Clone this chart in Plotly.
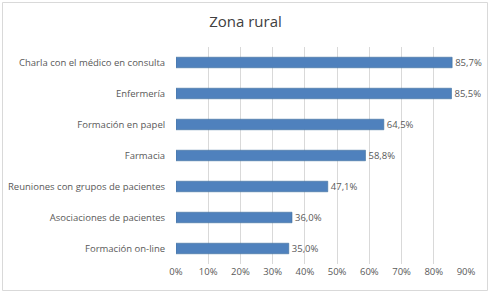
import plotly.graph_objects as go

categories = ["Charla con el médico en consulta", "Enfermería", "Formación en papel",
              "Farmacia", "Reuniones con grupos de pacientes", "Asociaciones de pacientes",
              "Formación on-line"]
values = [85.7, 85.5, 64.5, 58.8, 47.1, 36.0, 35.0]
tick_vals = [0, 10, 20, 30, 40, 50, 60, 70, 80, 90]
tick_text = ["0%", "10%", "20%", "30%", "40%", "50%", "60%", "70%", "80%", "90%"]
title = "Zona rural"

labels = [f"{v:.1f}%".replace(".", ",") for v in values]

W, H = 491, 295
L, R, T, B = 176, 25, 47, 31
pw, ph = W - L - R, H - T - B

def px_x(p):
    return (p - L) / pw

def px_y(p):
    return (H - B - p) / ph

FONT = "Open Sans"

fig = go.Figure(go.Bar(
    y=categories, x=values, orientation="h",
    marker=dict(color="#4F81BD", line=dict(color="#41719C", width=0.6)),
    text=labels, textposition="outside", cliponaxis=False, constraintext="none",
    textfont=dict(color="#595959", size=9.5, family=FONT),
    hoverinfo="skip",
))

fig.update_layout(
    width=W, height=H,
    margin=dict(l=L, r=R, t=T, b=B, pad=0, autoexpand=False),
    paper_bgcolor="white", plot_bgcolor="white",
    showlegend=False,
    title=dict(text=title, x=0.5, xanchor="center", xref="container",
               y=1 - 22 / H, yanchor="middle", yref="container", automargin=False,
               font=dict(size=15, color="#404040", family=FONT)),
    font=dict(family=FONT, color="#595959", size=9.5),
    xaxis=dict(range=[0, 90], tickvals=tick_vals, ticktext=tick_text,
               showgrid=True, gridcolor="#d9d9d9", gridwidth=1, automargin=False,
               zeroline=False, showline=False, ticks="",
               tickfont=dict(size=9.5, color="#595959"), fixedrange=True),
    yaxis=dict(categoryorder="array", categoryarray=categories[::-1], automargin=False,
               showgrid=False, zeroline=False, showline=False, ticks="",
               ticksuffix="    ", tickfont=dict(size=9.5, color="#595959"), fixedrange=True),
    bargap=0.66,
    shapes=[dict(type="rect", xref="paper", yref="paper",
                 x0=px_x(2.5), x1=px_x(487.5), y0=px_y(290.5), y1=px_y(2.5),
                 line=dict(color="#d9d9d9", width=1), fillcolor="rgba(0,0,0,0)",
                 layer="above")],
)

fig.write_html("out.html", config={"displayModeBar": False},
               post_script="document.body.style.margin='0';")
